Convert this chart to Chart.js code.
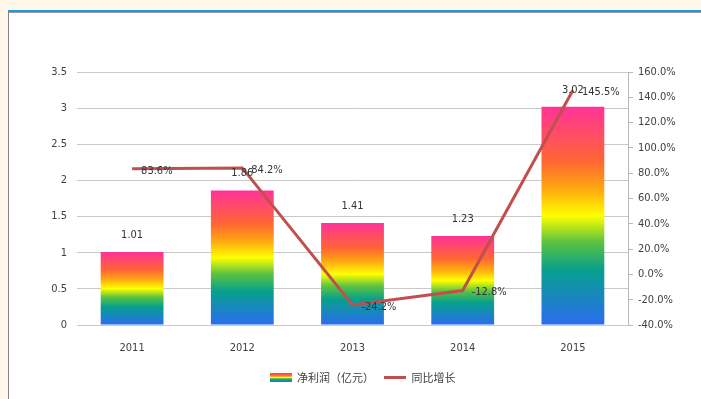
<!DOCTYPE html>
<html lang="zh">
  <head>
    <meta charset="UTF-8" />
    <title>净利润及同比增长</title>
    <style>
      html, body { margin: 0; padding: 0; }
      body { width: 701px; height: 399px; background: #fff8ea; position: relative; overflow: hidden; }
      .panel {
        position: absolute; left: 8px; top: 10px; right: 0; bottom: 0;
        background: #fff;
        border-top: 2px solid #1c9be2;
        border-left: 1px solid #858585;
        box-shadow: inset 0 1px 0 #9a9a9a;
      }
      .chart-box { position: absolute; left: 0; top: 0; width: 701px; height: 399px; }
    </style>
    <script src="https://cdn.jsdelivr.net/npm/chart.js"></script>
  </head>

  <body>
    <div class="panel"></div>
    <div class="chart-box">
      <canvas id="profitChart" width="701" height="399"></canvas>
    </div>

    <script>
      const years = ["2011", "2012", "2013", "2014", "2015"];
      const netProfit = [1.01, 1.86, 1.41, 1.23, 3.02];
      const yoyGrowth = [83.6, 84.2, -24.2, -12.8, 145.5];

      const narrowFamily = '"Liberation Sans Narrow", "DejaVu Sans Condensed", sans-serif';
      const labelFont = '11px ' + narrowFamily;
      const textColor = "#404040";
      const lineColor = "#c0504d";

      // rainbow stops, bottom -> top
      const rainbow = [
        [0, "#2b6cf0"],
        [0.25, "#06a08e"],
        [0.38, "#5cc241"],
        [0.5, "#ffff00"],
        [0.62, "#ffaa10"],
        [0.75, "#ff6633"],
        [1, "#ff3399"]
      ];

      function barGradient(ctx) {
        const chart = ctx.chart;
        if (!chart.chartArea || ctx.raw === undefined) return "#ffaa10";
        const y = chart.scales.y;
        const g = chart.ctx.createLinearGradient(0, y.getPixelForValue(0), 0, y.getPixelForValue(ctx.raw));
        rainbow.forEach(([p, c]) => g.addColorStop(p, c));
        return g;
      }

      // small striped swatch for the bar legend entry
      function rainbowSwatch() {
        const c = document.createElement("canvas");
        c.width = 22;
        c.height = 9;
        const g2 = c.getContext("2d");
        const grad = g2.createLinearGradient(0, 9, 0, 0);
        rainbow.forEach(([p, col]) => grad.addColorStop(p, col));
        g2.fillStyle = grad;
        g2.fillRect(0, 0, 22, 9);
        return c;
      }

      // value labels above bars and beside line points
      const valueLabels = {
        id: "valueLabels",
        afterDatasetsDraw(chart) {
          const ctx = chart.ctx;
          ctx.save();
          ctx.font = labelFont;
          ctx.fillStyle = "#333";
          ctx.textBaseline = "middle";

          const bars = chart.getDatasetMeta(0).data;
          ctx.textAlign = "center";
          bars.forEach((bar, i) => {
            ctx.fillText(netProfit[i].toFixed(2), bar.x, bar.y - 17);
          });

          const pts = chart.getDatasetMeta(1).data;
          ctx.textAlign = "left";
          pts.forEach((pt, i) => {
            ctx.fillText(yoyGrowth[i].toFixed(1) + "%", pt.x + 9, pt.y + 2);
          });
          ctx.restore();
        }
      };

      new Chart(document.getElementById("profitChart"), {
        data: {
          labels: years,
          datasets: [
            {
              type: "bar",
              label: "净利润（亿元）",
              data: netProfit,
              yAxisID: "y",
              backgroundColor: barGradient,
              barPercentage: 0.57,
              categoryPercentage: 1,
              order: 1
            },
            {
              type: "line",
              label: "同比增长",
              data: yoyGrowth,
              yAxisID: "y1",
              borderColor: lineColor,
              borderWidth: 3,
              pointRadius: 0,
              tension: 0,
              order: 0
            }
          ]
        },
        plugins: [valueLabels],
        options: {
          responsive: false,
          animation: false,
          devicePixelRatio: 1,
          layout: { padding: { top: 72, left: 24, right: 0, bottom: 6 } },
          plugins: {
            tooltip: { enabled: false },
            legend: {
              position: "bottom",
              labels: {
                usePointStyle: true,
                pointStyleWidth: 22,
                padding: 10,
                color: textColor,
                font: { family: '"Noto Sans CJK SC", sans-serif', size: 11 },
                generateLabels() {
                  return [
                    { text: "净利润（亿元）", pointStyle: rainbowSwatch(), lineWidth: 0, datasetIndex: 0, fontColor: textColor },
                    { text: "同比增长", pointStyle: "line", strokeStyle: lineColor, lineWidth: 3, datasetIndex: 1, fontColor: textColor }
                  ];
                }
              }
            }
          },
          scales: {
            x: {
              grid: { display: false, drawTicks: false },
              border: { display: false },
              ticks: { color: textColor, font: { family: narrowFamily, size: 11 }, padding: 17, maxRotation: 0 },
              afterFit(s) { s.height = 37; }
            },
            y: {
              position: "left",
              min: 0,
              max: 3.5,
              ticks: {
                stepSize: 0.5,
                color: textColor,
                padding: 10,
                font: { family: narrowFamily, size: 11 },
                callback: (v) => String(v)
              },
              grid: { color: "#c8c8c8", drawTicks: false },
              border: { display: false },
              afterFit(s) { s.width = 53; }
            },
            y1: {
              position: "right",
              min: -40,
              max: 160,
              ticks: {
                stepSize: 20,
                color: textColor,
                padding: 5,
                font: { family: narrowFamily, size: 11 },
                callback: (v) => v.toFixed(1) + "%"
              },
              grid: { drawOnChartArea: false, tickLength: 5, color: "#b8b8b8" },
              border: { display: true, color: "#b8b8b8" },
              afterFit(s) { s.width = 73; }
            }
          }
        }
      });
    </script>
  </body>
</html>
